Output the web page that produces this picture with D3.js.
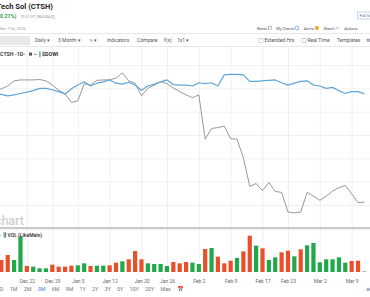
<!DOCTYPE html>
<html>
<head>
<meta charset="utf-8">
<script src="https://cdn.jsdelivr.net/npm/d3@7"></script>
<style>
  body { margin: 0; background: #fff; }
  svg { display: block; font-family: Roboto, "Open Sans", sans-serif; }
</style>
</head>
<body>
<svg id="chart" width="370" height="297"></svg>
<script>
"use strict";

// trading days shown in the 3 month view
var dates = [
  "2025-12-15","2025-12-16","2025-12-17","2025-12-18","2025-12-19",
  "2025-12-22","2025-12-23","2025-12-24","2025-12-26",
  "2025-12-29","2025-12-30","2025-12-31","2026-01-02",
  "2026-01-05","2026-01-06","2026-01-07","2026-01-08","2026-01-09",
  "2026-01-12","2026-01-13","2026-01-14","2026-01-15","2026-01-16",
  "2026-01-20","2026-01-21","2026-01-22","2026-01-23",
  "2026-01-26","2026-01-27","2026-01-28","2026-01-29","2026-01-30",
  "2026-02-02","2026-02-03","2026-02-04","2026-02-05","2026-02-06",
  "2026-02-09","2026-02-10","2026-02-11","2026-02-12","2026-02-13",
  "2026-02-17","2026-02-18","2026-02-19","2026-02-20",
  "2026-02-23","2026-02-24","2026-02-25","2026-02-26","2026-02-27",
  "2026-03-02","2026-03-03","2026-03-04","2026-03-05","2026-03-06",
  "2026-03-09","2026-03-10","2026-03-11"
];

// % change, CTSH (grey line)
var ctsh_pct = [
  -0.6, -0.1, 0.5, 1.6, 1.8,
  1.8, 1.8, 1.9, 1.6,
  0.7, -0.4, -1.2, -3.0,
  -2.7, 1.0, 0.7, 1.7, 1.8,
  1.8, 2.2, 3.3, 1.6, 1.1,
  -1.6, 0.0, 0.7, 1.4,
  1.0, 0.1, -0.7, -1.4, -2.0,
  -1.4, -10.9, -8.6, -8.4, -8.1,
  -10.8, -10.9, -14.9, -21.0, -20.4,
  -21.9, -20.2, -22.1, -22.3,
  -26.5, -26.7, -26.5, -22.3, -23.1,
  -24.0, -23.1, -22.0, -21.3, -20.8,
  -22.6, -24.5, -24.4
];

// % change, $DOWI (blue line)
var dowi_pct = [
  -1.0, -1.3, -1.6, -1.4, -1.1,
  -0.8, -0.5, 0.0, 0.0,
  -0.3, -0.7, -1.2, -0.1,
  0.7, 1.4, 0.5, 1.1, 1.4,
  1.8, 1.1, 0.9, 1.3, 0.7,
  -0.4, 0.5, 0.9, 1.4,
  1.8, 0.8, 0.7, 0.7, 0.5,
  1.2, 1.0, 1.2, 0.5, 2.9,
  3.0, 3.0, 2.9, 1.5, 1.5,
  1.6, 1.7, 1.8, 1.2,
  0.7, 1.1, 1.5, 1.6, 0.7,
  0.5, 0.0, 0.2, -0.5, -1.1,
  -0.7, -0.7, -1.2
];

// volume, millions of shares
var volume = [
  3.0, 3.6, 5.1, 3.6, 10.6,
  1.8, 1.6, 1.1, 1.1,
  2.2, 1.6, 1.6, 1.9,
  2.0, 2.6, 1.8, 1.9, 1.9,
  2.0, 2.8, 3.2, 3.8, 6.3,
  3.8, 2.6, 2.4, 2.4,
  1.8, 3.0, 2.6, 3.0, 2.8,
  2.4, 6.9, 7.2, 4.6, 2.6,
  3.4, 4.2, 6.2, 10.9, 7.9,
  7.1, 3.6, 4.4, 5.9,
  6.4, 4.7, 6.8, 8.0, 8.7,
  2.9, 3.8, 3.8, 4.4, 2.8,
  3.3, 3.4, 0.3
];

// day direction for the volume bar colour
var vol_dir = [
  "dn","dn","dn","up","up",
  "dn","up","up","up",
  "dn","dn","dn","dn",
  "up","up","dn","up","up",
  "dn","dn","up","dn","dn",
  "dn","up","up","up",
  "up","dn","dn","dn","up",
  "up","dn","up","dn","dn",
  "dn","up","dn","dn","up",
  "dn","up","up","dn",
  "dn","up","dn","up","up",
  "up","up","up","up","up",
  "dn","dn","na"
];

var tick_dates = ["2025-12-22","2025-12-29","2026-01-05","2026-01-12","2026-01-20",
  "2026-01-26","2026-02-02","2026-02-09","2026-02-17","2026-02-23","2026-03-02","2026-03-09"];
var pct_ticks = [-25, -20, -15, -10, -5, 0, 5];
var periods = ["3D","1M","2M","3M","6M","9M","1Y","2Y","3Y","5Y","10Y","20Y","Max"];

var d3 = window.d3;
var svg = d3.select("#chart");
var W = 370;
var dims = { top: 47, sep: 227, vtop: 229, vbottom: 272 };
var colors = { up: "#21a84a", dn: "#ea4f2c", na: "#bbbbbb", grid: "#ececec" };

var parse = d3.timeParse("%Y-%m-%d");
var fmt = d3.timeFormat("%b %-d");

// scales
var x = d3.scalePoint().domain(dates).range([-5, 364.4]);
var y = d3.scaleLinear().domain([-25, 5]).range([205, 65]);
var yv = d3.scaleLinear().domain([0, 12]).range([dims.vbottom, 232]);

// ---- header ----
var head = svg.append("g");
head.append("text").attr("x", 53).attr("y", 9).attr("text-anchor", "end")
  .attr("font-size", 7.6).attr("font-weight", 700).attr("fill", "#222")
  .text("Cognizant Tech Sol (CTSH)");
head.append("text").attr("x", 0).attr("y", 18).attr("font-size", 5.3)
  .attr("font-weight", 700).attr("fill", "#2a9d4b").text("0.27%)");
head.append("text").attr("x", 20).attr("y", 18).attr("font-size", 4)
  .attr("fill", "#999").text("10:01 ET [NASDAQ]");
head.append("text").attr("x", -1).attr("y", 29.5).attr("font-size", 4)
  .attr("fill", "#999").text("Mar 11th, 2026");

head.append("rect").attr("x", 357.5).attr("y", 12).attr("width", 20).attr("height", 7)
  .attr("fill", "#fff").attr("stroke", "#9fb6cc").attr("stroke-width", 0.6);
head.append("text").attr("x", 359.5).attr("y", 17).attr("font-size", 4)
  .attr("fill", "#3a6a96").text("Full Screen");

// links row, laid out left to right
var lx = 257;
[
  { t: "Notes", icon: "note" }, { t: "My Charts", icon: "ring" },
  { t: "Alerts", icon: "dot" }, { t: "Watch", icon: "star" }, { t: "Actions", icon: null }
].forEach(function (d) {
  var t = head.append("text").attr("x", lx).attr("y", 29.5).attr("font-size", 3.9)
    .attr("fill", "#555").text(d.t);
  lx += t.node().getComputedTextLength() + 1.2;
  if (d.icon === "note") {
    head.append("rect").attr("x", lx).attr("y", 26.2).attr("width", 3.2).attr("height", 3.2)
      .attr("fill", "none").attr("stroke", "#666").attr("stroke-width", 0.4);
    lx += 3.2;
  } else if (d.icon === "ring") {
    head.append("circle").attr("cx", lx + 1.8).attr("cy", 28).attr("r", 1.9)
      .attr("fill", "none").attr("stroke", "#3d7fd9").attr("stroke-width", 0.6);
    lx += 3.8;
  } else if (d.icon === "dot") {
    head.append("circle").attr("cx", lx + 2).attr("cy", 28).attr("r", 2.1).attr("fill", "#f5a623");
    lx += 4.2;
  } else if (d.icon === "star") {
    head.append("text").attr("x", lx - 0.5).attr("y", 29.8).attr("font-size", 5)
      .attr("fill", "#3d7fd9").text("\u2606");
    lx += 4;
  }
  lx += 4.5;
});

// toolbar
head.append("line").attr("x1", 0).attr("x2", W).attr("y1", 33.5).attr("y2", 33.5)
  .attr("stroke", "#e2e2e2").attr("stroke-width", 0.8);
head.append("rect").attr("x", -1).attr("y", 36).attr("width", 31).attr("height", 9).attr("fill", "#e8e8e8");
var tools = [
  { t: "Daily \u25BE", x: 35 }, { t: "3 Month \u25BE", x: 58 }, { t: "\u223F \u25BE", x: 89 },
  { t: "Indicators", x: 107 }, { t: "Compare", x: 137 }, { t: "f(x)", x: 164 },
  { t: "1x1 \u25BE", x: 177 }, { t: "Extended Hrs", x: 264.5 }, { t: "Real Time", x: 307.5 },
  { t: "Templates", x: 337 }, { t: "\u2699", x: 365.5 }
];
head.selectAll(".tool").data(tools).enter().append("text")
  .attr("x", d => d.x).attr("y", 42.3).attr("font-size", 5).attr("fill", "#555")
  .text(d => d.t);
[259, 302].forEach(function (cx) {
  head.append("rect").attr("x", cx).attr("y", 38.3).attr("width", 4).attr("height", 4)
    .attr("fill", "#fff").attr("stroke", "#aaa").attr("stroke-width", 0.5);
});
head.append("line").attr("x1", 0).attr("x2", W).attr("y1", 46.5).attr("y2", 46.5)
  .attr("stroke", "#e2e2e2").attr("stroke-width", 0.8);

// ---- grid ----
var grid = svg.append("g");
grid.append("g").attr("transform", "translate(0," + dims.sep + ")")
  .call(d3.axisBottom(x).tickValues(tick_dates).tickSize(-(dims.sep - dims.top)).tickFormat(""))
  .call(g => g.select(".domain").remove());
grid.append("g").attr("transform", "translate(0," + dims.vbottom + ")")
  .call(d3.axisBottom(x).tickValues(tick_dates).tickSize(-(dims.vbottom - dims.vtop)).tickFormat(""))
  .call(g => g.select(".domain").remove());
grid.append("g")
  .call(d3.axisRight(y).tickValues(pct_ticks).tickSize(W).tickFormat(""))
  .call(g => g.select(".domain").remove());
grid.selectAll(".tick line").attr("stroke", colors.grid).attr("stroke-width", 0.8);

// watermark
svg.append("text").attr("x", 24).attr("y", 224.5).attr("text-anchor", "end")
  .attr("font-size", 12.5).attr("font-weight", 500).attr("fill", "#d0d0d0")
  .text("barchart");

// ---- lines ----
var line = d3.line().x((d, i) => x(dates[i])).y(d => y(d));
svg.append("path").datum(ctsh_pct).attr("d", line)
  .attr("fill", "none").attr("stroke", "#8c8c8c").attr("stroke-width", 0.9)
  .attr("stroke-linejoin", "round");
svg.append("path").datum(dowi_pct).attr("d", line)
  .attr("fill", "none").attr("stroke", "#5ea6da").attr("stroke-width", 1.2)
  .attr("stroke-linejoin", "round");

// legend
var lg = svg.append("g");
lg.append("text").attr("x", 0).attr("y", 56).attr("font-size", 5.3).attr("font-weight", 600)
  .attr("fill", "#333").text("CTSH -1D-");
lg.append("rect").attr("x", 29).attr("y", 52.6).attr("width", 3).attr("height", 3).attr("fill", "#555");
lg.append("line").attr("x1", 34).attr("x2", 37).attr("y1", 54.3).attr("y2", 54.3)
  .attr("stroke", "#555").attr("stroke-width", 0.6);
lg.append("rect").attr("x", 39.2).attr("y", 51.2).attr("width", 1.4).attr("height", 6).attr("fill", "#5ea6da");
lg.append("text").attr("x", 42).attr("y", 56).attr("font-size", 5.3).attr("font-weight", 700)
  .attr("fill", "#333").text("$DOWI");

// pane separator
svg.append("rect").attr("x", 0).attr("y", dims.sep).attr("width", W).attr("height", 2.2).attr("fill", "#c9c9c9");

// ---- volume ----
var bw = 4.2;
svg.append("g").selectAll(".bar").data(volume).enter().append("rect")
  .attr("x", (d, i) => x(dates[i]) - bw / 2)
  .attr("y", d => yv(d))
  .attr("width", bw)
  .attr("height", d => yv(0) - yv(d))
  .attr("fill", (d, i) => colors[vol_dir[i]]);

var vl = svg.append("g");
vl.append("text").attr("x", 0).attr("y", 237).attr("font-size", 5).attr("fill", "#555").text("-");
vl.append("rect").attr("x", 3.6).attr("y", 232.3).attr("width", 1.1).attr("height", 5.2).attr("fill", "#8e5bc4");
vl.append("rect").attr("x", 5).attr("y", 232.3).attr("width", 1.1).attr("height", 5.2).attr("fill", "#21a84a");
vl.append("text").attr("x", 7.5).attr("y", 237).attr("font-size", 5).attr("font-weight", 600)
  .attr("fill", "#333").text("VOL (LikeMain)");

// date axis
var xa = svg.append("g").attr("transform", "translate(0," + (dims.vbottom + 4) + ")")
  .call(d3.axisBottom(x).tickValues(tick_dates).tickSize(0).tickFormat(d => fmt(parse(d))));
xa.select(".domain").remove();
xa.selectAll("text").attr("font-size", 5).attr("fill", "#666").attr("font-family", "Roboto, sans-serif");

// period buttons
var px = -3;
var pg = svg.append("g");
periods.forEach(function (p) {
  var t = pg.append("text").attr("x", px).attr("y", 291).attr("font-size", 5.4)
    .attr("fill", p === "3M" ? "#3d7fd9" : "#777").text(p);
  px += t.node().getComputedTextLength() + 6.2;
});
pg.append("text").attr("x", px).attr("y", 291).attr("font-size", 5.5).attr("fill", "#777").text("\u{1F4C5}");
pg.append("text").attr("x", 366).attr("y", 291).attr("font-size", 5).attr("fill", "#777").text("\u2295");
</script>
</body>
</html>
